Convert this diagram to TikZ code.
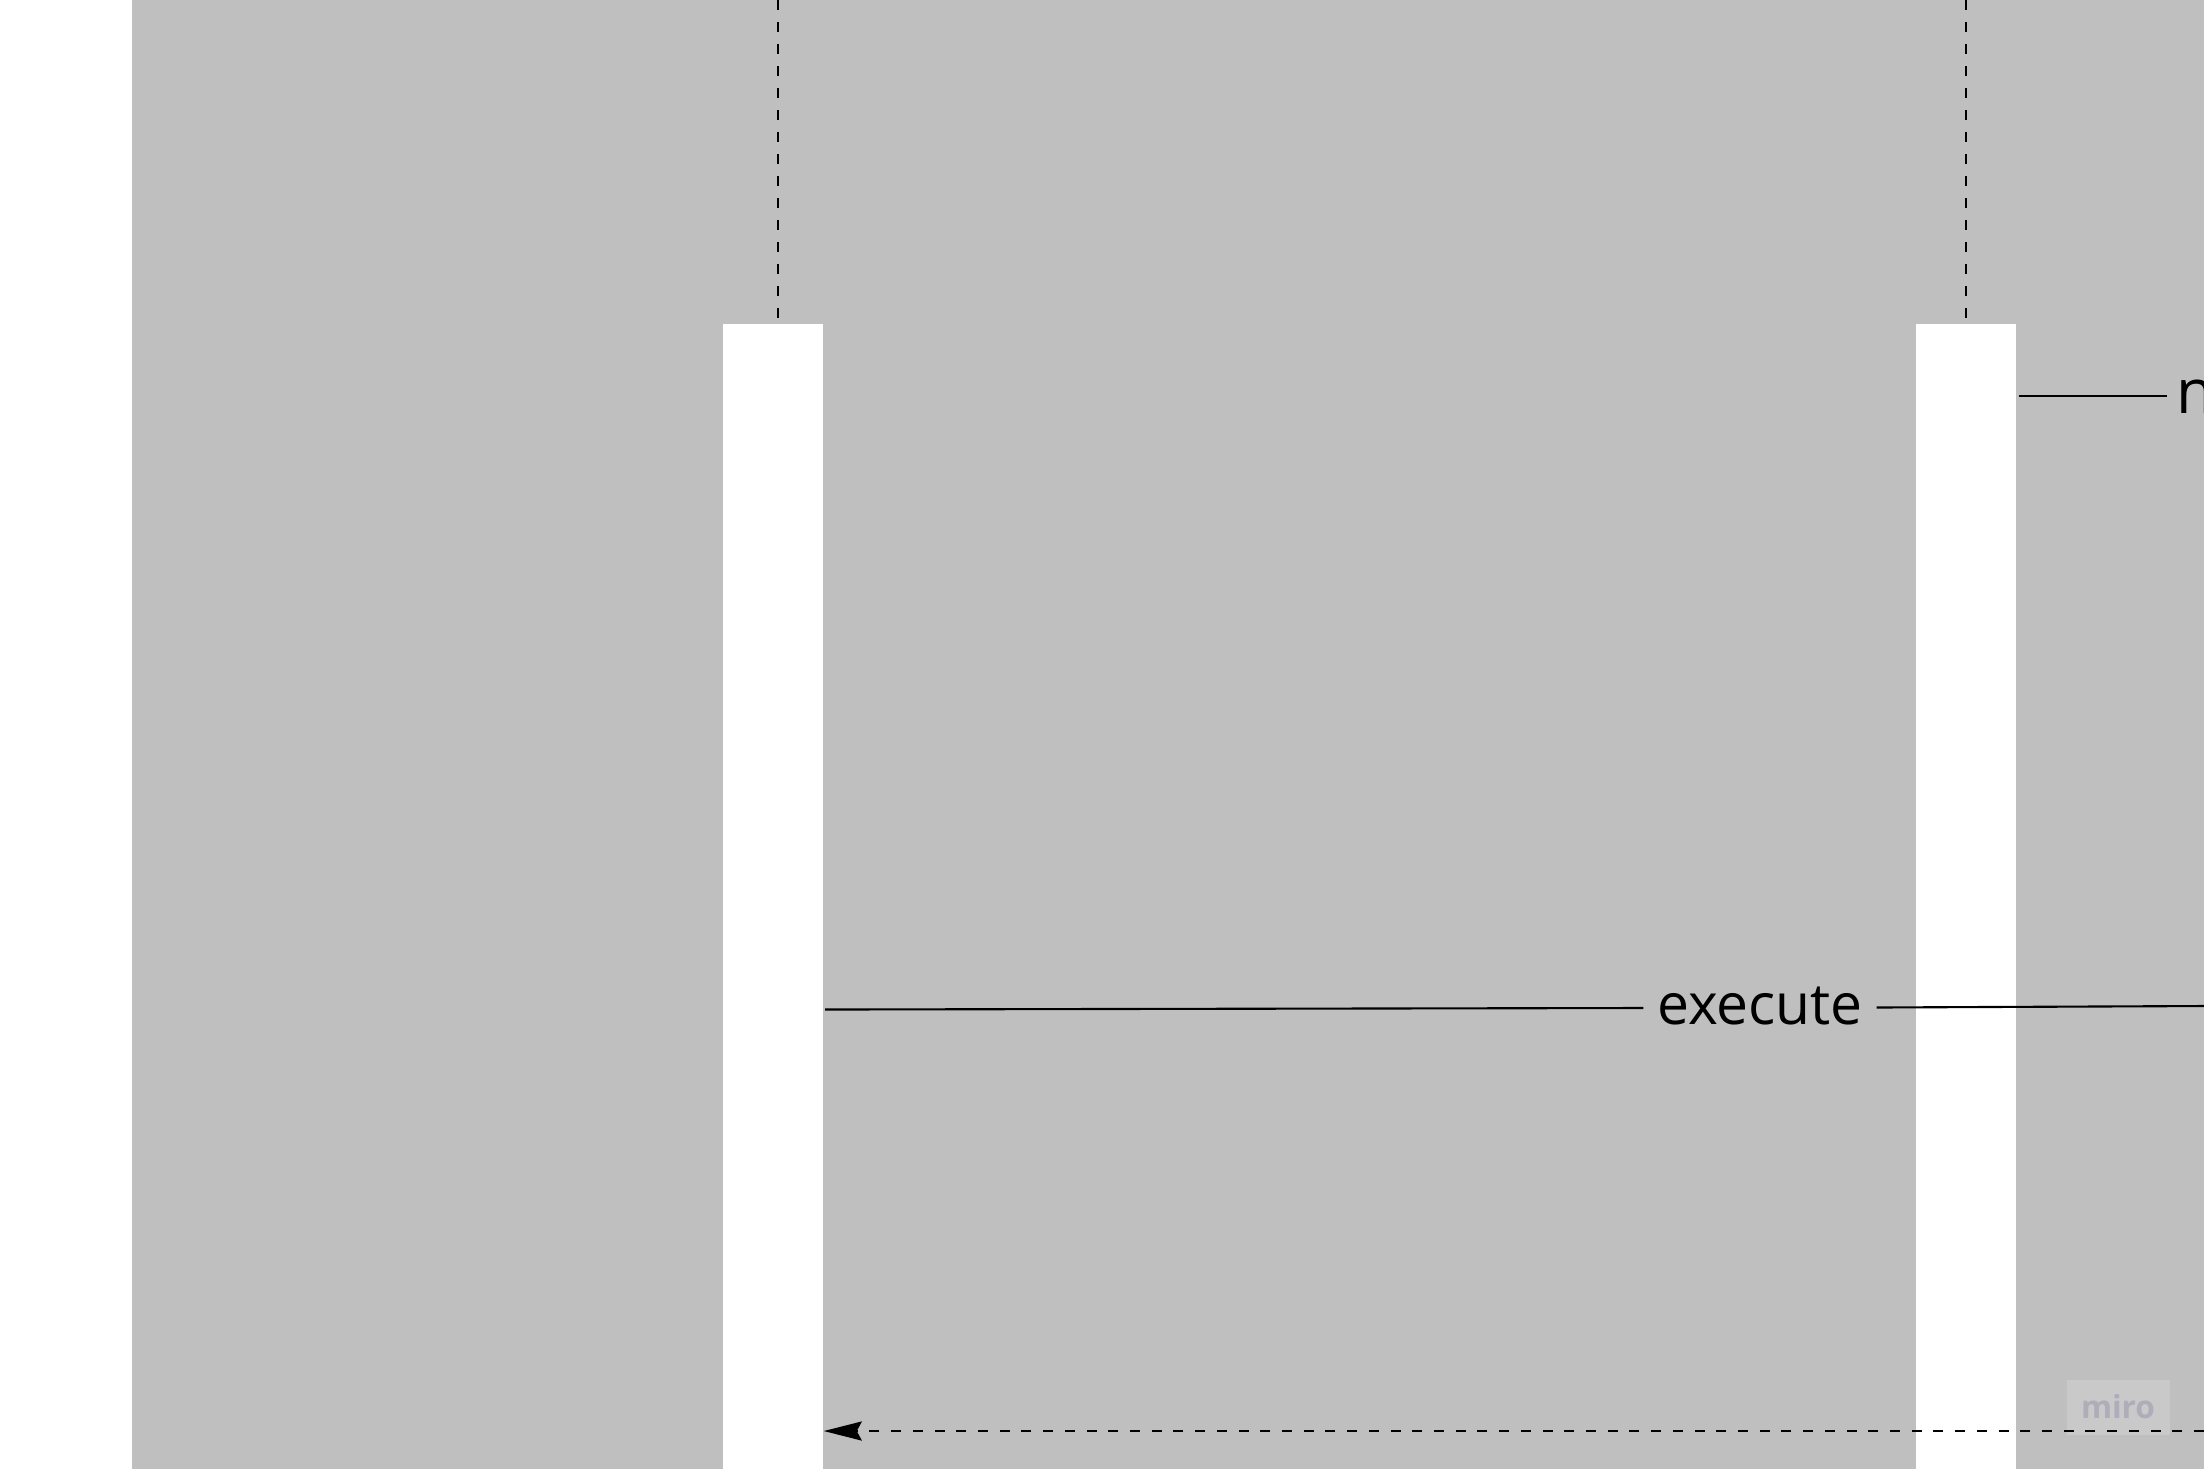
\documentclass[tikz,border=0pt]{standalone}
\usepackage{fontspec}
\setmainfont{Open Sans}
\usetikzlibrary{positioning,arrows.meta}
\definecolor{backgray}{RGB}{191,191,191}
\definecolor{miroback}{RGB}{201,201,201}
\definecolor{mirotext}{RGB}{174,174,187}
\begin{document}
\begin{tikzpicture}[x=0.01cm,y=-0.01cm,
		bar/.style={fill=white,inner sep=0pt,minimum width=1cm,minimum height=11.46cm,anchor=north},
		lifeline/.style={line width=0.8pt,dash pattern=on 0.1cm off 0.12cm},
		msgline/.style={line width=0.6pt},
		msglabel/.style={font=\fontsize{16.2}{20}\selectfont,inner xsep=0.13cm,inner ysep=0pt},
		retarrow/.style={line width=0.7pt,dash pattern=on 0.1cm off 0.117cm,-{Stealth[length=0.38cm,width=0.19cm,inset=0.05cm]}}]
	\useasboundingbox (0,0) rectangle (2204,1469);
	\fill[white] (0,0) rectangle (132,1469);
	\fill[backgray] (132,0) rectangle (2204,1469);
	\node[bar] (client) at (773,323) {};
	\node[bar] (server) at (1966,323) {};
	\coordinate (clienttop) at (778,0);
	\coordinate (servertop) at (1966,0);
	\draw[lifeline] (clienttop) -- (clienttop |- client.north);
	\draw[lifeline] (servertop) -- (servertop |- server.north);
	\node[msglabel,font=\fontsize{17.5}{22}\selectfont,inner sep=0pt,anchor=base west] (nlabel) at (2176,413) {n};
	\draw[msgline] ([yshift=0.17cm]server.east |- nlabel.base west) ++(2,0) -- ++(148,0);
	\node[msglabel,anchor=base] (execute) at (1760,1024) {execute};
	\coordinate (exeleft) at (825,1009.5);
	\coordinate (exeright) at (2204,1006);
	\draw[msgline] (exeleft) -- ([yshift=0.16cm]execute.base west);
	\draw[msgline] ([yshift=0.165cm]execute.base east) -- (exeright);
	\node[fill=miroback,text=mirotext,font=\bfseries\fontsize{9}{10}\selectfont,minimum width=1.03cm,minimum height=0.55cm,inner sep=0pt] (miro) at (2118,1407) {miro};
	\coordinate (retstart) at (2204,1431);
	\draw[retarrow] (retstart) -- (client.east |- retstart);
\end{tikzpicture}
\end{document}
